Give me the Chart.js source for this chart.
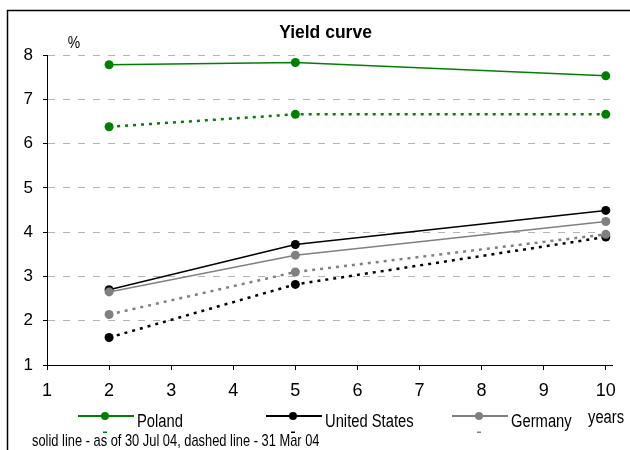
<!DOCTYPE html>
<html>
<head>
<meta charset="utf-8">
<script src="https://cdn.jsdelivr.net/npm/chart.js@4.4.1/dist/chart.umd.min.js"></script>
<style>
  html, body { margin: 0; padding: 0; background: #fff; }
  #wrap { width: 630px; height: 450px; position: relative; }
</style>
</head>
<body>
<div id="wrap"><canvas id="chart" width="630" height="450"></canvas></div>
<script>
// Maturities in years and yields in percent
const maturities = [2, 5, 10];
const polandJul  = [7.78, 7.83, 7.53];
const polandMar  = [6.38, 6.66, 6.66];
const usJul      = [2.70, 3.72, 4.49];
const usMar      = [1.62, 2.82, 3.89];
const germanyJul = [2.65, 3.48, 4.24];
const germanyMar = [2.14, 3.10, 3.95];

const seriesNames  = ['Poland', 'United States', 'Germany'];
const seriesColors = ['#008000', '#000000', '#808080'];

const xTickValues = [1, 2, 3, 4, 5, 6, 7, 8, 9, 10];
const yTickValues = [1, 2, 3, 4, 5, 6, 7, 8];

const titleText = 'Yield curve';
const yUnitText = '%';
const xUnitText = 'years';
const noteText  = 'solid line - as of 30 Jul 04, dashed line - 31 Mar 04';

const SANS = "'Liberation Sans', Arial, sans-serif";
const NARROW_SCALE = 0.82;

const julySeries  = [polandJul, usJul, germanyJul];
const marchSeries = [polandMar, usMar, germanyMar];

function toPoints(values) {
  return maturities.map((m, i) => ({ x: m, y: values[i] }));
}

const datasets = [];
seriesNames.forEach((name, i) => {
  const color = seriesColors[i];
  datasets.push({
    label: name,
    data: toPoints(julySeries[i]),
    borderColor: color,
    backgroundColor: color,
    borderWidth: 1.5,
    pointRadius: 4.5,
    pointHoverRadius: 4.5,
    pointBorderWidth: 0,
    pointBackgroundColor: color,
    tension: 0,
    order: 10 - 2 * i
  });
  datasets.push({
    label: name + ' (31 Mar 04)',
    data: toPoints(marchSeries[i]),
    borderColor: color,
    backgroundColor: color,
    borderWidth: 2.5,
    borderDash: [3, 5],
    borderCapStyle: 'butt',
    pointRadius: 4.5,
    pointHoverRadius: 4.5,
    pointBorderWidth: 0,
    pointBackgroundColor: color,
    tension: 0,
    order: 9 - 2 * i
  });
});

// condensed text: regular face squeezed horizontally
function narrowText(ctx, text, x, y, size, align) {
  ctx.save();
  ctx.translate(x, y);
  ctx.scale(NARROW_SCALE, 1);
  ctx.font = size + 'px ' + SANS;
  ctx.textAlign = align || 'left';
  ctx.fillText(text, 0, 0);
  ctx.restore();
}

// Title, unit labels, legend, note and frame
const decorations = {
  id: 'decorations',
  afterDraw(chart) {
    const ctx = chart.ctx;
    ctx.save();

    // frame
    ctx.strokeStyle = '#000';
    ctx.lineWidth = 1.5;
    ctx.beginPath();
    ctx.moveTo(7.5, 450);
    ctx.lineTo(7.5, 10.5);
    ctx.lineTo(630, 10.5);
    ctx.stroke();

    ctx.fillStyle = '#000';
    ctx.textBaseline = 'alphabetic';

    ctx.font = 'bold 17.5px ' + SANS;
    ctx.textAlign = 'center';
    ctx.fillText(titleText, 325.5, 38);

    narrowText(ctx, yUnitText, 74, 48, 17, 'center');
    narrowText(ctx, xUnitText, 588, 423, 18, 'left');

    // legend
    const starts = [78, 266, 452];
    const ly = 416;
    seriesNames.forEach((name, i) => {
      const x0 = starts[i];
      const color = seriesColors[i];
      ctx.strokeStyle = color;
      ctx.lineWidth = 2;
      ctx.beginPath();
      ctx.moveTo(x0, ly);
      ctx.lineTo(x0 + 56, ly);
      ctx.stroke();
      ctx.fillStyle = color;
      ctx.beginPath();
      ctx.arc(x0 + 27, ly, 4, 0, Math.PI * 2);
      ctx.fill();
      // edge of the clipped dashed-series key below
      ctx.fillRect(x0 + 25, 431.5, 4, 1.5);
      ctx.fillStyle = '#000';
      narrowText(ctx, name, x0 + 59, 427, 18, 'left');
    });

    narrowText(ctx, noteText, 32, 446, 15.7, 'left');

    ctx.restore();
  }
};

new Chart(document.getElementById('chart'), {
  type: 'line',
  data: { datasets },
  options: {
    responsive: false,
    animation: false,
    devicePixelRatio: 1,
    layout: { padding: { top: 55, right: 18, bottom: 0, left: 0 } },
    plugins: {
      legend: { display: false },
      title: { display: false },
      tooltip: { enabled: false }
    },
    scales: {
      x: {
        type: 'linear',
        min: 1,
        max: 10.1,
        afterBuildTicks: (scale) => { scale.ticks = xTickValues.map(v => ({ value: v })); },
        afterFit: (scale) => { scale.height = 85; },
        grid: { drawOnChartArea: false, drawTicks: true, tickLength: 5, tickColor: '#000', tickWidth: 1 },
        border: { display: true, color: '#000', width: 1 },
        ticks: { color: '#000', font: { family: SANS, size: 18 }, padding: 10, maxRotation: 0, autoSkip: false }
      },
      y: {
        type: 'linear',
        min: 1,
        max: 8,
        afterBuildTicks: (scale) => { scale.ticks = yTickValues.map(v => ({ value: v })); },
        afterFit: (scale) => { scale.width = 47; },
        grid: {
          color: (c) => (c.tick && c.tick.value === 1) ? 'rgba(0,0,0,0)' : '#b4b4b4',
          lineWidth: 1,
          tickColor: '#000',
          tickLength: 4,
          tickWidth: 1,
          tickBorderDash: []
        },
        border: { display: true, color: '#000', width: 1, dash: [7, 8] },
        ticks: { color: '#000', font: { family: SANS, size: 17 }, padding: 10 }
      }
    }
  },
  plugins: [decorations]
});
</script>
</body>
</html>
